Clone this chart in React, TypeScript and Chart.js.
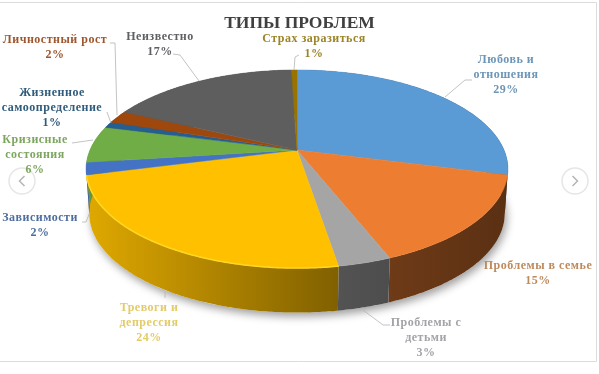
import React, { useEffect, useRef } from "react";
import { Chart, registerables } from "chart.js";

Chart.register(...registerables);

const categories = [
  ["Любовь и", "отношения"],
  ["Проблемы в семье"],
  ["Проблемы с", "детьми"],
  ["Тревоги и", "депрессия"],
  ["Зависимости"],
  ["Кризисные", "состояния"],
  ["Жизненное", "самоопределение"],
  ["Личностный рост"],
  ["Неизвестно"],
  ["Страх заразиться"],
];
// Slice sizes as they look in the picture; the labels print them rounded.
const values = [29, 15, 3.4, 23.6, 2, 6, 1, 2.1, 17.4, 0.5];
const colors = ["#5B9BD5", "#ED7D31", "#A5A5A5", "#FFC000", "#4472C4", "#70AD47", "#255E91", "#9E480E", "#5E5E5E", "#997300"];
const labelColors = ["#6C96B8", "#BD8A5C", "#A3A3A8", "#E3CB68", "#4F6E9E", "#7CA65E", "#2F5C7C", "#A0562C", "#5F6064", "#9C8428"];
const titleText = "ТИПЫ ПРОБЛЕМ";

// Layout of the annotations: [centre x, first line y]
const labelAnchors = [
  [506, 60], [538, 266], [426, 323], [149, 308], [40, 218],
  [35, 140], [52, 93], [55, 40], [160, 37], [314, 39],
];
const leaders = [
  [[445, 97], [465, 80], [472, 80]],
  [],
  [[363, 310], [383, 325], [390, 325]],
  [[165, 292], [165, 298]],
  [[90, 212], [86, 222], [82, 222]],
  [[93, 140], [72, 143]],
  [[111, 123], [107, 112]],
  [[117, 115], [115, 43], [110, 43]],
  [[199, 81], [180, 55], [173, 54]],
  [[294, 70], [295, 57], [299, 55]],
];

// Projection of the pie's circle onto the tilted plane
const CX = 297, CY = 150, A = 207, B = 95.4, K = -0.192, DEPTH = 44.5, BOTTOM_X = 0.985;

function project(theta: number, depth = 0): [number, number] {
  const X = Math.sin(theta), Y = -Math.cos(theta);
  const d = 1 + K * Y;
  const s = depth ? BOTTOM_X : 1;
  return [CX + (s * A * X) / d, CY + (B * Y) / d + depth];
}

function rgb(hex: string) {
  return [1, 3, 5].map((i) => parseInt(hex.slice(i, i + 2), 16));
}
function shade(hex: string, f: number) {
  const c = rgb(hex).map((v) => Math.round(Math.min(255, v * f)));
  return `rgb(${c[0]},${c[1]},${c[2]})`;
}

const pie3d = {
  id: "pie3d",
  beforeDatasetsDraw(chart: any) {
    const ctx: CanvasRenderingContext2D = chart.ctx;
    const arcs = chart.getDatasetMeta(0).data;
    const STEP = 0.01;
    const angles = (a: any) => [a.startAngle + Math.PI / 2, a.endAngle + Math.PI / 2];

    // Drop shadow of the whole body
    ctx.save();
    ctx.shadowColor = "rgba(0,0,0,0.38)";
    ctx.shadowBlur = 9;
    ctx.shadowOffsetY = 4;
    ctx.shadowOffsetX = 2;
    ctx.fillStyle = "#fff";
    ctx.beginPath();
    for (let t = 0; t < Math.PI * 2; t += STEP) {
      const p = project(t, DEPTH);
      ctx.lineTo(p[0], p[1]);
    }
    ctx.closePath();
    ctx.fill();
    ctx.restore();

    // Walls: one polygon per slice, shaded from left to right
    arcs.forEach((arc: any, i: number) => {
      const [s, e] = angles(arc);
      const g = ctx.createLinearGradient(86, 0, 508, 0);
      g.addColorStop(0, shade(colors[i], 0.88));
      g.addColorStop(0.6, shade(colors[i], 0.5));
      g.addColorStop(1, shade(colors[i], 0.38));
      ctx.fillStyle = g;
      ctx.beginPath();
      for (let t = s; t < e; t += STEP) {
        const p = project(t);
        ctx.lineTo(p[0], p[1]);
      }
      const a = project(e), b = project(e, DEPTH);
      ctx.lineTo(a[0], a[1]);
      ctx.lineTo(b[0], b[1]);
      for (let t = e; t > s; t -= STEP) {
        const p = project(t, DEPTH);
        ctx.lineTo(p[0], p[1]);
      }
      const c = project(s, DEPTH);
      ctx.lineTo(c[0], c[1]);
      ctx.closePath();
      ctx.fill();
    });

    // Top surface
    arcs.forEach((arc: any, i: number) => {
      const [s, e] = angles(arc);
      ctx.fillStyle = colors[i];
      ctx.strokeStyle = colors[i];
      ctx.lineWidth = 0.5;
      ctx.beginPath();
      ctx.moveTo(CX, CY);
      for (let t = s; t < e; t += STEP) {
        const p = project(t);
        ctx.lineTo(p[0], p[1]);
      }
      const end = project(e);
      ctx.lineTo(end[0], end[1]);
      ctx.closePath();
      ctx.fill();
      ctx.stroke();
    });

    // Bevel highlight on the front rim of the brightest slice
    const yellow = angles(arcs[3]);
    ctx.strokeStyle = "#FFD823";
    ctx.lineWidth = 1.5;
    ctx.beginPath();
    for (let t = yellow[0]; t < yellow[1]; t += STEP) {
      const p = project(t);
      ctx.lineTo(p[0], p[1]);
    }
    ctx.stroke();
    return false;
  },
  afterDraw(chart: any) {
    const ctx: CanvasRenderingContext2D = chart.ctx;
    ctx.save();

    // Frame and carousel buttons of the page the chart sits on
    ctx.strokeStyle = "#dcdcdc";
    ctx.lineWidth = 1;
    ctx.beginPath();
    ctx.moveTo(0, 2.5);
    ctx.lineTo(596.5, 2.5);
    ctx.lineTo(596.5, 361.5);
    ctx.lineTo(0, 361.5);
    ctx.stroke();
    [[22, 181, -1], [575, 181, 1]].forEach(([x, y, dir]) => {
      ctx.strokeStyle = "#e6e6e6";
      ctx.lineWidth = 1.5;
      ctx.beginPath();
      ctx.arc(x, y, 13, 0, Math.PI * 2);
      ctx.stroke();
      ctx.strokeStyle = "#b5b5b5";
      ctx.beginPath();
      ctx.moveTo(x - dir * 2.5, y - 5);
      ctx.lineTo(x + dir * 2.5, y);
      ctx.lineTo(x - dir * 2.5, y + 5);
      ctx.stroke();
    });

    // Leader lines
    ctx.strokeStyle = "#b4b4b4";
    ctx.lineWidth = 0.8;
    leaders.forEach((pts) => {
      if (!pts.length) return;
      ctx.beginPath();
      pts.forEach((p, i) => (i ? ctx.lineTo(p[0], p[1]) : ctx.moveTo(p[0], p[1])));
      ctx.stroke();
    });

    // Data labels
    ctx.textAlign = "center";
    ctx.textBaseline = "middle";
    ctx.font = 'bold 12px "Liberation Serif"';
    (ctx as any).letterSpacing = "0.5px";
    categories.forEach((lines, i) => {
      ctx.fillStyle = labelColors[i];
      const [x, y] = labelAnchors[i];
      [...lines, Math.round(values[i]) + "%"].forEach((line, j) => {
        ctx.fillText(line, x, y + j * 15);
      });
    });
    ctx.restore();
  },
};

export default function App() {
  const ref = useRef<HTMLCanvasElement>(null);
  useEffect(() => {
    document.body.style.margin = "0";
    document.body.style.background = "#fff";
    const chart = new Chart(ref.current!, {
      type: "pie",
      data: {
        labels: categories.map((c) => c.join(" ")),
        datasets: [{ data: values, backgroundColor: colors, borderWidth: 0 }],
      },
      options: {
        responsive: false,
        animation: false,
        layout: { padding: 0 },
        plugins: {
          legend: { display: false },
          tooltip: { enabled: false },
          title: {
            display: true,
            text: titleText,
            color: "#404040",
            font: { family: '"Liberation Serif"', size: 17.5, weight: "bold" },
            padding: { top: 13, bottom: 8 },
          },
        },
      },
      plugins: [pie3d],
    } as any);
    return () => chart.destroy();
  }, []);
  return <canvas ref={ref} width={599} height={374} style={{ display: "block", filter: "blur(0.4px)" }} />;
}
